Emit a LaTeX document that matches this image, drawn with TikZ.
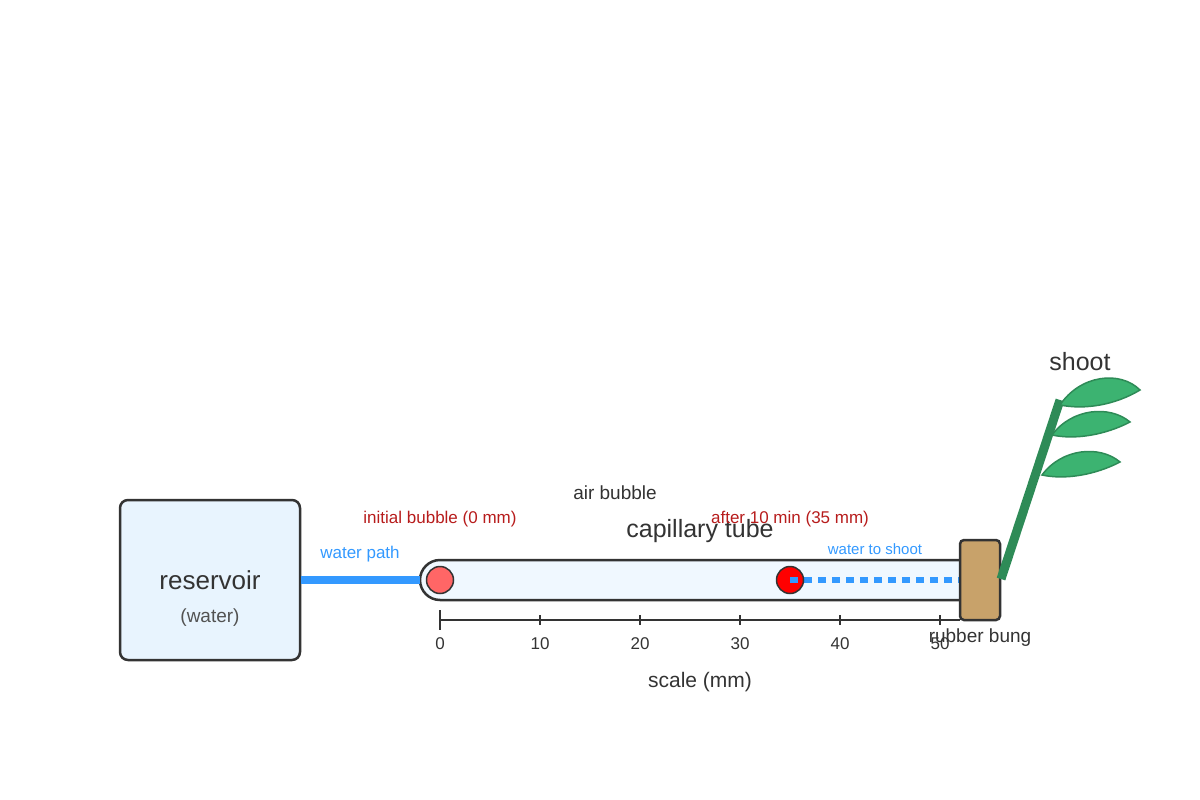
\documentclass[tikz,border=0pt]{standalone}
\usepackage{fontspec}
\setmainfont{Liberation Sans}
\definecolor{txt}{HTML}{333333}
\definecolor{wblue}{HTML}{3399FF}
\definecolor{dred}{HTML}{B71C1C}
\definecolor{resfill}{HTML}{E8F4FE}
\definecolor{tubefill}{HTML}{F0F8FF}
\definecolor{bung}{HTML}{C8A26A}
\definecolor{leaf}{HTML}{3CB371}
\definecolor{leafd}{HTML}{2E8B57}
\begin{document}
\begin{tikzpicture}[x=1pt,y=-1pt,
  lbl/.style={text=txt,inner sep=0pt},
  leafs/.style={fill=leaf,draw=leafd,line width=1.5pt},
  tick/.style={txt,line width=1.2pt}]
\useasboundingbox (0,0) rectangle (1200,800);
% reservoir
\node[draw=txt,line width=2.5pt,fill=resfill,rounded corners=8pt,minimum width=180pt,minimum height=160pt] (res) at (210,580) {};
\node[lbl,font=\fontsize{26}{30}\selectfont] (rest) at (210,580) {reservoir};
\node[lbl,text=txt!85,font=\fontsize{19}{22}\selectfont] (resw) at (210,618) {(water)};
% tube
\draw[draw=txt,line width=2.5pt,fill=tubefill] (960,560) -- (440,560) arc[start angle=270,end angle=90,radius=20] -- (960,600);
\coordinate (tubeL) at (420,580);
\coordinate (bungL) at (960,580);
\draw[wblue,line width=8pt] (res.east) -- (tubeL);
\node[lbl,text=wblue,font=\fontsize{17}{20}\selectfont] (wp) at (360,554) {water path};
% dashed water
\coordinate (b2c) at (790,580);
\draw[wblue,line width=6pt,dash pattern=on 8pt off 6pt] (b2c) -- (bungL);
% bubbles
\node[circle,draw=txt,line width=1.5pt,fill=red!60!white,minimum size=27pt,inner sep=0pt] (b1) at (440,580) {};
\node[circle,draw=txt,line width=1.5pt,fill=red,minimum size=27pt,inner sep=0pt] (b2) at (790,580) {};
\draw[wblue,line width=6pt] (b2c) -- ++(8,0);
% bung
\node[draw=txt,line width=2.5pt,fill=bung,rounded corners=4pt,minimum width=40pt,minimum height=80pt] (bg) at (980,580) {};
% scale
\coordinate (s0) at (440,620);
\coordinate (s1) at (960,620);
\draw[tick,line width=2pt] (s0) -- (s1);
\draw[tick,line width=1.5pt] (440,610) -- (440,630);
\foreach \x/\v in {440/0,540/10,640/20,740/30,840/40,940/50}{
  \draw[tick] (\x,615) -- (\x,625);
  \node[lbl,font=\fontsize{17}{20}\selectfont] at (\x,644) {\v};
}
\node[lbl,font=\fontsize{21}{24}\selectfont] (sc) at (700,682) {scale (mm)};
\node[lbl,font=\fontsize{19}{22}\selectfont] (rb) at (980,638) {rubber bung};
% labels
\node[lbl,font=\fontsize{19}{22}\selectfont] (ab) at (615,493) {air bubble};
\node[lbl,text=dred,font=\fontsize{17}{20}\selectfont] (ib) at (440,519) {initial bubble (0 mm)};
\node[lbl,font=\fontsize{25}{30}\selectfont] (ct) at (700,531) {capillary tube};
\node[lbl,text=dred,font=\fontsize{17}{20}\selectfont] (af) at (790,519) {after 10 min (35 mm)};
\node[lbl,text=wblue,font=\fontsize{15}{18}\selectfont] (ws) at (875,549) {water to shoot};
% shoot
\coordinate (st0) at (1001,579);
\coordinate (st1) at (1060,400);
\draw[leafd,line width=9pt] (st0) -- (st1);
\draw[leafs] (1060,405) .. controls (1080,375) and (1120,370) .. (1140,390) .. controls (1115,405) and (1085,410) .. (1060,405) -- cycle;
\draw[leafs] (1052,435) .. controls (1072,408) and (1110,405) .. (1130,422) .. controls (1105,435) and (1075,440) .. (1052,435) -- cycle;
\draw[leafs] (1042,475) .. controls (1062,448) and (1100,445) .. (1120,462) .. controls (1095,475) and (1065,480) .. (1042,475) -- cycle;
\node[lbl,font=\fontsize{25}{30}\selectfont] (sh) at (1080,362) {shoot};
\end{tikzpicture}
\end{document}
